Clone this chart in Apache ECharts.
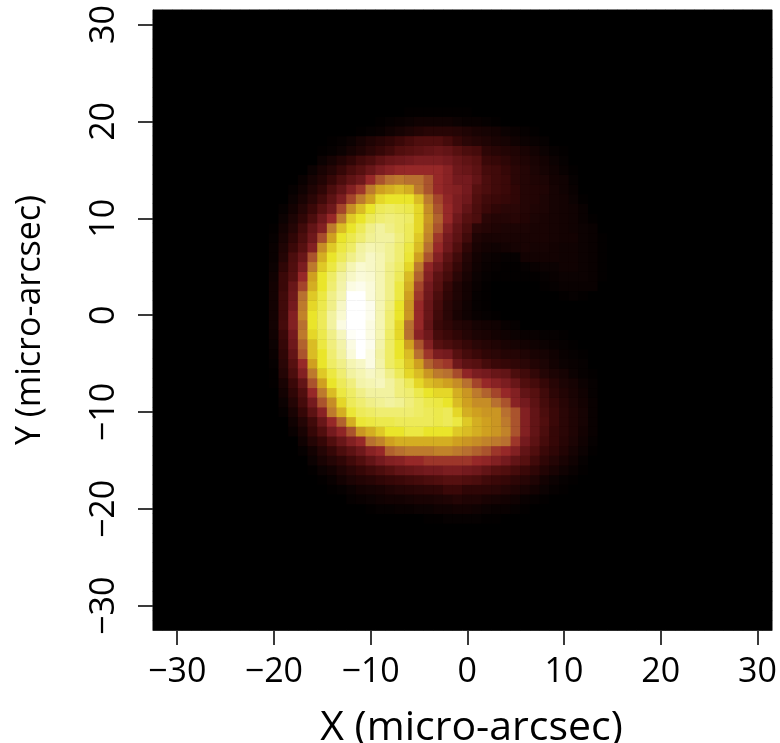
<!DOCTYPE html>
<html>
<head>
<meta charset="utf-8">
<style>html,body{margin:0;padding:0;background:#fff}#c{width:780px;height:743px}</style>
<script src="https://cdn.jsdelivr.net/npm/echarts@6/dist/echarts.min.js"></script>
</head>
<body>
<div id="c"></div>
<script>
// Cell coordinates in micro-arcsec
const xCategories = [];
const yCategories = [];
for (let v = -32; v <= 31; v++) { xCategories.push(v); yCategories.push(v); }
const tickLabels = [-30, -20, -10, 0, 10, 20, 30];
// Brightness levels (0-100); each row spans x = -20 ... 14
const firstColumnX = -20;
const row21 = [0,0,0,0,0,0,0,0,0,0,0,0,0,0,1,1,1,1,1,1, 1,0,0,0,0,0,0,0,0,0,0,0,0,0,0];
const row20 = [0,0,0,0,0,0,0,0,0,0,0,1,2,3,4,5,5,5,5,4, 3,3,2,1,0,0,0,0,0,0,0,0,0,0,0];
const row19 = [0,0,0,0,0,0,0,0,0,1,2,3,5,7,9,11,13,13,13,12, 10,8,7,6,4,3,2,1,0,0,0,0,0,0,0];
const row18 = [0,0,0,0,0,0,1,2,4,7,10,13,16,20,24,27,28,28,24,18, 14,12,10,8,7,5,4,3,2,0,0,0,0,0,0];
const row17 = [0,0,0,0,0,1,2,4,7,10,14,18,22,28,30,32,34,36,34,30, 26,24,15,13,11,10,8,6,4,2,1,0,0,0,0];
const row16 = [0,0,0,0,0,4,7,11,16,22,26,32,36,38,40,42,42,42,40,36, 33,30,20,18,15,12,10,8,6,4,2,0,0,0,0];
const row15 = [0,0,0,0,4,8,12,18,25,30,36,42,46,49,50,50,50,50,46,38, 36,32,24,22,18,14,12,9,7,5,3,1,0,0,0];
const row14 = [0,0,0,3,7,11,18,26,33,38,50,56,60,62,60,60,56,50,46,40, 40,34,26,22,20,14,12,10,9,6,5,2,0,0,0];
const row13 = [0,0,2,5,10,16,26,34,44,52,62,70,72,74,72,62,56,50,46,44, 40,30,26,22,20,16,12,11,10,7,5,3,0,0,0];
const row12 = [0,0,4,8,14,22,32,42,54,62,70,78,80,80,80,74,62,54,48,42, 38,28,22,20,18,16,12,11,9,7,6,4,1,0,0];
const row11 = [0,2,6,12,20,30,38,54,66,74,80,84,85,84,83,78,66,56,50,42, 34,26,20,16,14,14,12,10,9,7,6,5,3,0,0];
const row10 = [0,4,9,16,26,38,50,62,76,80,84,86,87,86,85,78,68,58,50,38, 30,26,14,12,12,13,11,9,8,7,6,5,3,1,0];
const row9 = [1,6,12,22,34,44,62,74,80,84,88,90,88,86,84,78,66,56,44,34, 26,14,12,10,9,9,9,8,8,7,6,5,4,3,0];
const row8 = [2,8,16,26,38,55,70,80,83,86,89,90,90,87,84,76,64,52,40,32, 22,10,8,8,8,8,8,8,8,7,6,6,4,3,1];
const row7 = [3,10,20,30,44,66,76,82,85,90,92,91,89,86,82,74,60,50,38,28, 16,8,6,5,6,7,8,7,7,6,5,5,4,3,1];
const row6 = [3,12,26,36,56,72,80,84,88,91,94,92,89,86,81,70,56,44,32,22, 12,6,4,3,2,2,6,6,6,6,5,5,4,3,1];
const row5 = [4,16,28,42,62,76,82,87,92,95,94,92,88,85,78,62,48,38,28,18, 10,5,3,2,1,1,2,3,4,4,5,5,4,3,1];
const row4 = [5,20,30,50,70,80,85,90,94,96,95,92,88,84,74,58,44,32,24,14, 8,4,2,1,1,1,1,1,2,3,4,4,4,3,1];
const row3 = [6,20,36,54,72,80,86,91,97,98,96,92,88,82,72,54,40,30,18,10, 6,3,1,0,0,0,0,0,1,2,3,3,3,3,0];
const row2 = [6,22,38,60,76,82,88,92,100,100,96,92,88,82,70,52,38,26,16,10, 6,2,1,0,0,0,0,0,0,0,1,2,1,0,0];
const row1 = [6,22,40,62,78,83,88,94,100,100,98,92,87,80,68,50,36,24,14,9, 5,2,1,0,0,0,0,0,0,0,0,0,0,0,0];
const row0 = [6,22,44,64,80,84,90,95,100,100,98,92,86,80,68,50,36,22,14,8, 5,3,2,1,0,0,0,0,0,0,0,0,0,0,0];
const rowM1 = [6,24,44,60,80,84,90,97,100,100,97,92,86,78,60,50,34,20,16,12, 10,7,6,5,3,2,0,0,0,0,0,0,0,0,0];
const rowM2 = [5,20,40,62,78,83,88,93,99,100,97,92,85,78,60,46,38,24,20,16, 12,9,8,6,5,4,3,3,2,2,1,0,0,0,0];
const rowM3 = [4,18,38,58,74,82,87,91,97,100,98,91,85,80,70,56,44,30,26,22, 18,14,12,10,8,7,6,5,4,3,2,1,0,0,0];
const rowM4 = [3,16,34,56,74,80,86,90,96,100,97,90,85,80,74,60,52,42,40,30, 24,20,16,14,12,12,10,8,7,5,3,2,1,0,0];
const rowM5 = [2,14,30,50,70,80,85,88,92,94,97,91,85,82,76,70,58,54,52,38, 32,30,24,20,18,16,14,11,9,6,4,3,2,0,0];
const rowM6 = [1,12,26,44,62,76,82,86,90,92,94,92,88,84,78,74,68,62,60,55, 48,42,40,36,34,26,22,17,12,9,7,4,2,1,0];
const rowM7 = [1,8,20,34,56,70,80,84,87,91,92,93,90,87,84,78,74,72,70,66, 60,54,50,46,42,36,28,24,18,13,9,7,4,2,0];
const rowM8 = [0,6,16,28,50,62,74,82,85,88,90,90,90,87,86,83,80,78,78,72, 68,62,58,54,50,44,34,30,22,15,11,8,5,2,0];
const rowM9 = [0,4,12,24,40,56,66,78,84,86,88,89,90,89,87,85,83,82,80,74, 70,66,66,60,56,46,40,32,24,18,13,9,6,3,0];
const rowM10 = [0,2,8,18,32,46,62,72,81,84,85,86,86,86,86,85,84,83,84,78, 72,70,68,68,60,56,44,34,26,20,14,10,7,3,0];
const rowM11 = [0,0,5,12,22,36,50,58,72,81,82,83,83,84,84,84,84,83,84,82, 76,72,70,68,62,56,44,34,28,20,14,10,7,3,0];
const rowM12 = [0,0,3,8,18,28,40,48,56,68,72,76,80,80,82,82,80,80,80,76, 74,72,70,68,64,56,44,34,26,18,14,10,6,3,0];
const rowM13 = [0,0,0,5,12,18,28,36,44,50,60,64,70,72,72,72,72,72,72,70, 68,66,64,62,60,52,40,32,24,18,13,9,5,2,0];
const rowM14 = [0,0,0,2,6,12,18,26,32,38,46,50,58,60,62,62,62,64,64,62, 60,58,56,52,50,44,34,28,20,16,11,7,4,1,0];
const rowM15 = [0,0,0,0,4,8,12,16,22,28,34,40,44,46,50,50,52,52,52,52, 52,50,48,44,40,34,30,22,16,12,8,5,2,0,0];
const rowM16 = [0,0,0,0,1,4,6,10,14,18,22,26,30,34,36,38,40,40,42,42, 40,38,34,30,28,24,20,16,11,8,5,3,1,0,0];
const rowM17 = [0,0,0,0,0,1,3,6,9,11,13,16,18,20,22,24,26,28,30,30, 28,26,22,20,18,15,13,10,6,4,2,1,0,0,0];
const rowM18 = [0,0,0,0,0,0,1,2,4,6,7,8,10,12,13,14,15,16,20,20, 16,16,15,14,12,10,8,6,4,2,1,0,0,0,0];
const rowM19 = [0,0,0,0,0,0,0,0,2,3,4,5,6,6,7,8,8,9,10,12, 10,10,8,7,6,5,3,2,1,0,0,0,0,0,0];
const rowM20 = [0,0,0,0,0,0,0,0,0,0,1,2,2,3,3,4,4,5,5,6, 6,5,4,3,3,2,1,0,0,0,0,0,0,0,0];
const rowM21 = [0,0,0,0,0,0,0,0,0,0,0,0,0,0,0,0,1,1,2,2, 2,2,1,1,0,0,0,0,0,0,0,0,0,0,0];
const rowsFromTop = [row21,row20,row19,row18,row17,row16,row15,row14,row13,row12,row11,row10,row9,row8,row7,row6,row5,row4,row3,row2,row1,row0,
  rowM1,rowM2,rowM3,rowM4,rowM5,rowM6,rowM7,rowM8,rowM9,rowM10,rowM11,rowM12,rowM13,rowM14,rowM15,rowM16,rowM17,rowM18,rowM19,rowM20,rowM21];
const topRowY = 21;
const colourRamp = ['#000000','#1f0404','#3a0808','#561010','#741a1e','#962828','#b87030','#cfa020','#eae52a','#f2f2a0','#ffffff'];

const cells = [];
xCategories.forEach(function (x, xi) {
  yCategories.forEach(function (y, yi) {
    const row = rowsFromTop[topRowY - y];
    const v = row && row[x - firstColumnX] !== undefined ? row[x - firstColumnX] : 0;
    cells.push([xi, yi, v]);
  });
});

const isTick = function (index, value) { return tickLabels.indexOf(Number(value)) >= 0; };
const fmt = function (v) { return Number(v) < 0 ? '\u2212' + Math.abs(v) : String(v); };
const FONT = '"Open Sans", sans-serif';
const lineStyle = { color: '#3a3a3a', width: 1 };
const tickStyle = { color: '#3a3a3a', width: 2 };

const chart = echarts.init(document.getElementById('c'), null, { renderer: 'canvas' });
chart.setOption({
  animation: false,
  backgroundColor: '#fff',
  grid: { left: 153, top: 10, width: 619, height: 620, outerBoundsMode: 'none', containLabel: false, show: true, backgroundColor: '#000', borderColor: '#555', borderWidth: 1 },
  xAxis: {
    type: 'category', data: xCategories, boundaryGap: true,
    axisLine: { show: true, onZero: false, lineStyle: lineStyle },
    axisTick: { show: true, alignWithLabel: true, interval: isTick, length: 15, lineStyle: tickStyle },
    axisLabel: { show: true, interval: isTick, formatter: fmt, color: '#000', fontFamily: FONT, fontSize: 34, margin: 25, hideOverlap: false },
    splitLine: { show: false }, splitArea: { show: false },
    name: 'X (micro-arcsec)', nameLocation: 'middle', nameGap: 78,
    nameTextStyle: { color: '#000', fontFamily: FONT, fontSize: 41, padding: [0, 0, 0, 18] }
  },
  yAxis: {
    type: 'category', data: yCategories, boundaryGap: true,
    axisLine: { show: true, onZero: false, lineStyle: lineStyle },
    axisTick: { show: true, alignWithLabel: true, interval: isTick, length: 15, lineStyle: tickStyle },
    axisLabel: { show: true, interval: isTick, formatter: fmt, rotate: 90, color: '#000', fontFamily: FONT, fontSize: 34, margin: 32, hideOverlap: false, align: 'center', verticalAlign: 'bottom' },
    splitLine: { show: false }, splitArea: { show: false },
    name: 'Y (micro-arcsec)', nameLocation: 'middle', nameGap: 106,
    nameTextStyle: { color: '#000', fontFamily: FONT, fontSize: 34 }
  },
  visualMap: { show: false, type: 'continuous', min: 0, max: 100, dimension: 2, seriesIndex: 0, inRange: { color: colourRamp } },
  series: [{
    type: 'heatmap', data: cells, progressive: 0, silent: true,
    itemStyle: { borderWidth: 0 }, emphasis: { disabled: true }
  }]
});
</script>
</body>
</html>
